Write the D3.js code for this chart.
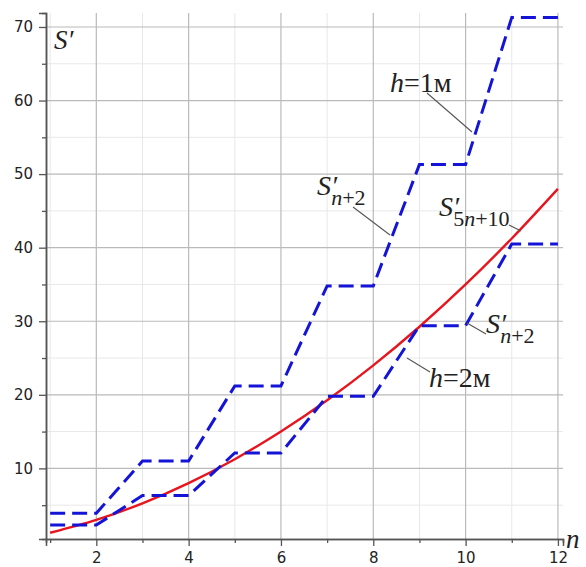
<!DOCTYPE html>
<meta charset="utf-8" />
<style>
  body { margin: 0; background: #fff; }
  text { fill: #222; }
</style>
<svg width="586" height="567"></svg>
<script src="https://d3js.org/d3.v7.min.js"></script>
<script>
  // values
  var nValues = [1, 2, 3, 4, 5, 6, 7, 8, 9, 10, 11, 12];
  var stepsH1 = [3.9, 3.9, 11.0, 11.0, 21.2, 21.2, 34.8, 34.8, 51.3, 51.3, 71.3, 71.3];
  var stepsH2 = [2.3, 2.3, 6.3, 6.3, 12.1, 12.1, 19.8, 19.8, 29.4, 29.4, 40.5, 40.5];
  var curve5n10 = [1.25, 3.0, 5.25, 8.0, 11.25, 15.0, 19.25, 24.0, 29.25, 35.0, 41.25, 48.0];
  var xTicks = [2, 4, 6, 8, 10, 12];
  var yTicks = [10, 20, 30, 40, 50, 60, 70];

  var svg = d3.select("svg");

  var x = d3.scaleLinear().domain([0.91, 12.11]).range([46, 563]);
  var y = d3.scaleLinear().domain([0.4, 71.9]).range([539, 13]);

  // grid: minor first, major on top
  var grid = svg.append("g");
  grid.selectAll(".vminor")
    .data(d3.range(1, 13).filter(d => d % 2 == 1))
    .enter().append("line")
    .attr("x1", d => x(d)).attr("x2", d => x(d))
    .attr("y1", y.range()[0]).attr("y2", y.range()[1])
    .style("stroke", "#e8e8e8").attr("stroke-width", 1);
  grid.selectAll(".hminor")
    .data(d3.range(5, 71, 10))
    .enter().append("line")
    .attr("x1", x.range()[0]).attr("x2", x.range()[1])
    .attr("y1", d => y(d)).attr("y2", d => y(d))
    .style("stroke", "#e8e8e8").attr("stroke-width", 1);
  grid.selectAll(".vmajor")
    .data(xTicks)
    .enter().append("line")
    .attr("x1", d => x(d)).attr("x2", d => x(d))
    .attr("y1", y.range()[0]).attr("y2", y.range()[1])
    .style("stroke", "#bababa").attr("stroke-width", 1.2);
  grid.selectAll(".hmajor")
    .data(yTicks)
    .enter().append("line")
    .attr("x1", x.range()[0]).attr("x2", x.range()[1])
    .attr("y1", d => y(d)).attr("y2", d => y(d))
    .style("stroke", "#bababa").attr("stroke-width", 1.2);

  // axes
  var xAxis = d3.axisBottom(x).tickValues(xTicks).tickSize(7).tickPadding(6).tickFormat(d3.format("d"));
  var xMinor = d3.axisBottom(x).tickValues(d3.range(1, 13).filter(d => d % 2 == 1)).tickSize(4).tickFormat("");
  var yAxis = d3.axisLeft(y).tickValues(yTicks).tickSize(7).tickPadding(6).tickFormat(d3.format("d"));
  var yMinor = d3.axisLeft(y).tickValues(d3.range(5, 71, 10)).tickSize(4).tickFormat("");

  [[xAxis, "translate(0," + y.range()[0] + ")"], [xMinor, "translate(0," + y.range()[0] + ")"],
   [yAxis, "translate(" + x.range()[0] + ",0)"], [yMinor, "translate(" + x.range()[0] + ",0)"]]
    .forEach(function(a) {
      var g = svg.append("g").attr("transform", a[1]).call(a[0]);
      g.select(".domain").style("stroke", "#555").attr("stroke-width", 1.5);
      g.selectAll(".tick line").style("stroke", "#555").attr("stroke-width", 1.3);
      g.selectAll(".tick text").style("font-family", "DejaVu Sans").style("font-size", "15px").style("fill", "#222");
    });

  // lines
  var line = d3.line().x(d => x(d[0])).y(d => y(d[1]));
  var smooth = d3.line().x(d => x(d[0])).y(d => y(d[1])).curve(d3.curveMonotoneX);

  svg.append("path")
    .datum(nValues.map((n, i) => [n, curve5n10[i]]))
    .attr("d", smooth)
    .attr("fill", "none").style("stroke", "#e8141e").attr("stroke-width", 2.4);

  [stepsH1, stepsH2].forEach(function(s) {
    svg.append("path")
      .datum(nValues.map((n, i) => [n, s[i]]))
      .attr("d", line)
      .attr("fill", "none").style("stroke", "#1414d8").attr("stroke-width", 3)
      .attr("stroke-dasharray", "15,7");
  });

  // annotations
  var serif = "Liberation Serif";
  var leaders = [[427, 93, 472, 132], [353, 207, 390, 235], [509, 225, 521, 231], [467, 323, 486, 334], [407, 358, 430, 372]];
  svg.selectAll(".leader").data(leaders).enter().append("line")
    .attr("x1", d => d[0]).attr("y1", d => d[1]).attr("x2", d => d[2]).attr("y2", d => d[3])
    .style("stroke", "#555").attr("stroke-width", 1.1);

  function hLabel(xp, yp, val) {
    var t = svg.append("text").attr("x", xp).attr("y", yp)
      .style("font-family", serif).style("font-size", "28px");
    t.append("tspan").style("font-style", "italic").text("h");
    t.append("tspan").text("=" + val);
  }
  hLabel(390, 92, "1м");
  hLabel(429, 387, "2м");

  // S' with subscript (pre + italic n + post)
  function sLabel(xp, yp, pre, post) {
    var t = svg.append("text").attr("x", xp).attr("y", yp)
      .style("font-family", serif).style("font-size", "28px");
    t.append("tspan").style("font-style", "italic").text("S′");
    var sub = t.append("tspan").attr("dx", -6).attr("dy", 10).style("font-size", "22px");
    if (pre) sub.append("tspan").text(pre);
    sub.append("tspan").style("font-style", "italic").text("n");
    sub.append("tspan").text(post);
  }
  sLabel(317, 195, "", "+2");
  sLabel(439, 216, "5", "+10");
  sLabel(486, 333, "", "+2");

  svg.append("text").attr("x", 54).attr("y", 49)
    .style("font-family", serif).style("font-style", "italic").style("font-size", "27px").text("S′");
  svg.append("text").attr("x", 566).attr("y", 548)
    .style("font-family", serif).style("font-style", "italic").style("font-size", "27px").text("n");
</script>
